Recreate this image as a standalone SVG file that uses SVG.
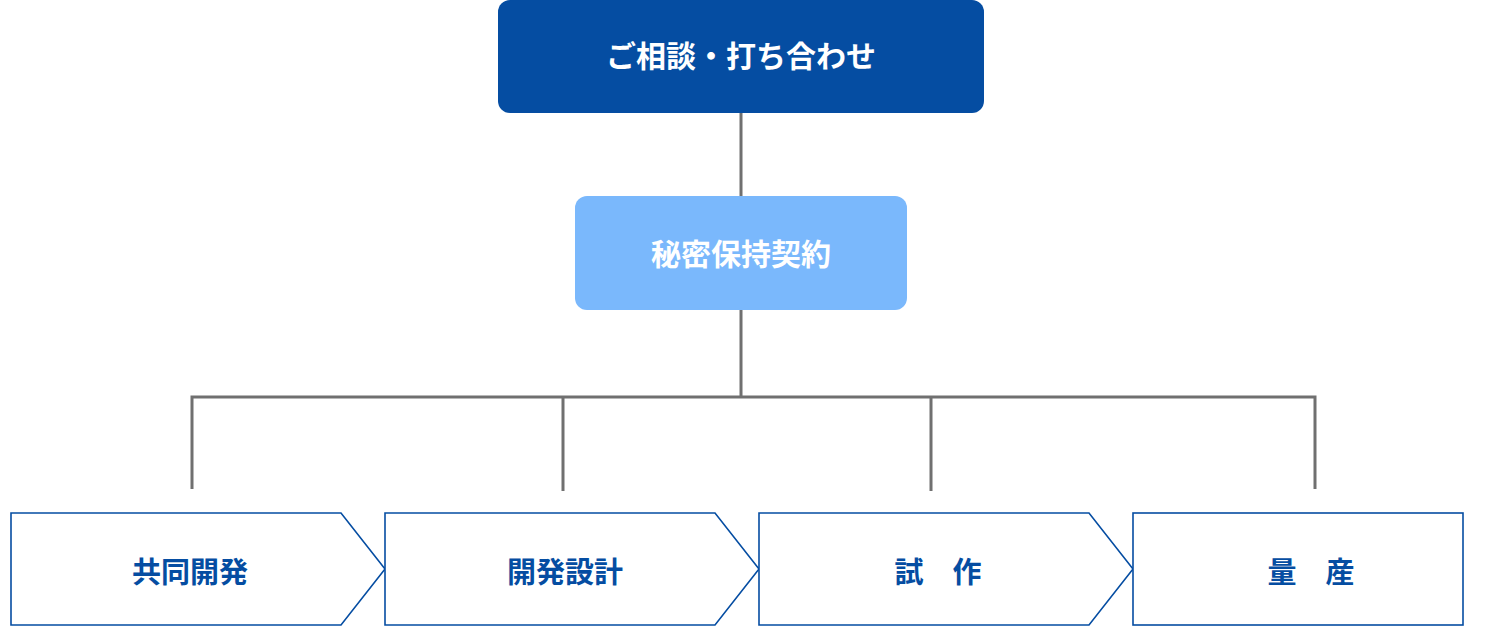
<svg xmlns="http://www.w3.org/2000/svg" width="1502" height="626" viewBox="0 0 1502 626">
<style>
.t{font-family:"Noto Sans CJK JP","Noto Sans",sans-serif;font-weight:bold;text-anchor:middle;dominant-baseline:central}
.w{fill:#fff;font-size:30px}
.b{fill:#054da2;font-size:29px}
.s{fill:#fff;stroke:#054da2;stroke-width:1.6}
.c{fill:none;stroke:#707070;stroke-width:3}
</style>
<g id="connectors">
<path class="c" d="M741 113V196M741 310V397M192 489V397H1315V489M563 397V491M931 397V491"/>
</g>
<g id="n1"><rect x="498" y="0" width="486" height="113" rx="12" fill="#054da2"/><text class="t w" x="741" y="54">ご相談・打ち合わせ</text></g>
<g id="n2"><rect x="575" y="196" width="332" height="114" rx="12" fill="#7ab8fc"/><text class="t w" x="741" y="252">秘密保持契約</text></g>
<g id="n3"><path class="s" d="M11 513H341L385 569L341 625H11Z"/><text class="t b" x="190" y="570">共同開発</text></g>
<g id="n4"><path class="s" d="M385 513H715L759 569L715 625H385Z"/><text class="t b" x="565" y="570">開発設計</text></g>
<g id="n5"><path class="s" d="M759 513H1089L1133 569L1089 625H759Z"/><text class="t b" x="938" y="570">試　作</text></g>
<g id="n6"><rect class="s" x="1133" y="513" width="330" height="112"/><text class="t b" x="1311" y="570">量　産</text></g>
</svg>
